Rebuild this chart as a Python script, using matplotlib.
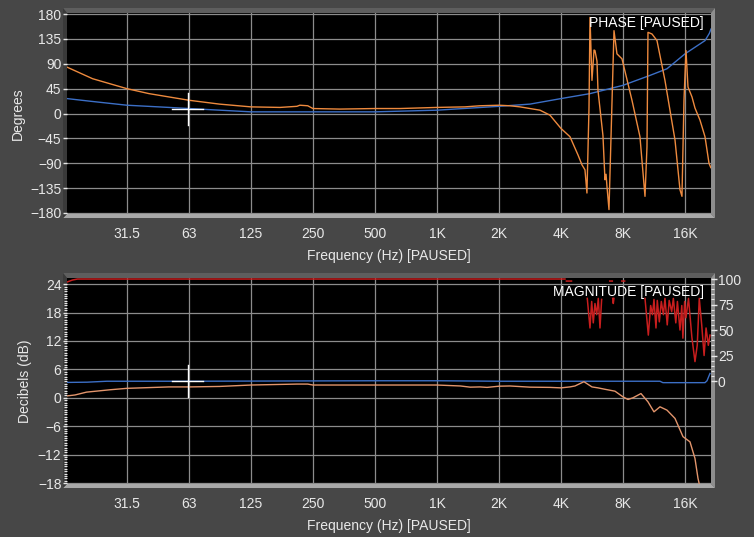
import matplotlib
matplotlib.use("Agg")
import matplotlib.pyplot as plt
from matplotlib.patches import Polygon
from matplotlib.ticker import FixedLocator, NullLocator

NaN = float("nan")

# ---------------- data ----------------
oct_ticks = [31.25, 62.5, 125, 250, 500, 1000, 2000, 4000, 8000, 16000]
oct_labels = ["31.5", "63", "125", "250", "500", "1K", "2K", "4K", "8K", "16K"]

phase_freq = [16, 21.3, 31.25, 40, 50, 62.5, 88, 125, 173, 209, 216, 236, 250, 338, 500, 661,
              1000, 1367, 1617, 2000, 2262, 2530, 3163, 3537, 4000, 4423, 4838, 5059, 5231, 5348,
              5472, 5533, 5657, 5790, 5850, 5983, 6050, 6396, 6542, 6620, 6690, 6842, 7236, 7480,
              7913, 8846, 9672, 10233, 10463, 10580, 11064, 11700, 12791, 14310, 15129, 15470,
              15821, 16180, 16546, 17302, 17889, 18922, 20010, 20925, 21350]
phase_deg = [84, 63, 45, 36, 30, 24, 17, 12, 11, 13, 15, 14, 9, 8, 9, 9,
             11, 12, 14, 15, 14, 12, 6, -3, -27, -42, -75, -93, -102, -144,
             10, 174, 60, 115, 114, 95, 42, -40, -120, -110, -132, -174, 150, 108,
             99, 24, -42, -150, -60, 147, 144, 132, 60, -48, -138, -150,
             24, 114, 48, 30, 10, -12, -42, -90, -98]

gd_freq = [16, 21, 31.25, 50, 62.5, 125, 250, 500, 1000, 2000, 2830, 4000, 5533, 8000,
           10818, 13082, 16000, 17889, 20010, 21000, 21400]
gd_deg = [27, 22, 15, 11, 9, 3, 3, 3, 6, 13, 17, 27, 36, 51, 69, 81, 108, 120, 132, 145, 153]

mag_freq = [16, 17.5, 19.9, 25.9, 31.25, 50, 62.5, 88, 125, 209, 236, 250, 500, 1000, 1300,
            1450, 1617, 1750, 2000, 2262, 2828, 3537, 4000, 4423, 4679, 5173, 5657, 6050, 6542,
            7317, 8000, 8462, 8945, 9781, 10580, 11312, 12100, 13082, 14310, 15644, 16921,
            17889, 18502, 18950]
mag_db = [0.4, 0.6, 1.2, 1.7, 2.0, 2.3, 2.3, 2.4, 2.7, 2.9, 2.9, 2.7, 2.7, 2.7, 2.5,
          2.25, 2.3, 2.2, 2.45, 2.5, 2.25, 2.2, 2.1, 2.3, 2.5, 3.4, 2.3, 2.1, 1.8,
          1.4, 0.2, -0.35, 0.0, 0.9, -0.85, -2.96, -1.9, -2.6, -4.35, -8.2, -9.3,
          -12.8, -17.0, -19.0]

ref_freq = [16, 20, 25, 62.5, 500, 1000, 2000, 12100, 12500, 20010, 20466, 21160]
ref_db = [3.25, 3.3, 3.5, 3.5, 3.6, 3.6, 3.5, 3.5, 3.2, 3.2, 3.6, 5.15]

# coherence (%), NaN marks where the trace is not drawn
coh_freq = [16, 17, 18, 4183, NaN,
            4250, 4500, NaN,
            5368, 5533, 5638, 5740, 5850, 5963, 6072, 6187, 6303, NaN,
            6900, 7100, NaN,
            7130, 7180, 7230, NaN,
            7900, 8150, NaN,
            10233, 10620, 10900, 11130, 11312, 11570, 11740, 12010, 12280, 12570, 12791,
            13120, 13410, 13790, 14050, 14440, 14700, 15130, 15440, 15630, 15940, 16180,
            16640, 17280, 17890, 18350, 18770, 19290, 19810, 20250, 20770, 21160]
coh_pct = [97, 99, 100, 100, NaN,
           98, 98, NaN,
           81, 52, 78, 57, 76, 65, 81, 52, 80, NaN,
           98, 98, NaN,
           81, 76, 81, NaN,
           98, 98, NaN,
           81, 45, 74, 65, 80, 52, 79, 58, 78, 65, 81,
           55, 79, 68, 81, 57, 78, 50, 74, 42, 78,
           62, 81, 43, 19, 35, 81, 55, 25, 52, 35, 45]

cursor_freq = 61.8
cursor_phase = 7.7
cursor_db = 3.6

# ---------------- style ----------------
W, H = 754, 537
BG = "#474747"
TXT = "#e8e8e8"
GRID = "#8c8c8c"
FONT = "Liberation Sans"
plt.rcParams["font.family"] = [FONT, "DejaVu Sans"]
plt.rcParams["font.size"] = 10

fig = plt.figure(figsize=(W / 100, H / 100), dpi=100, facecolor=BG)


def fx(x):
    return x / W


def fy(y):
    return 1 - y / H


def bevel(x0, y0, x1, y1, t=4):
    pieces = [
        ([(x0, y0), (x1, y0), (x1 - t, y0 + 5), (x0 + t, y0 + 5)], "#5e5e5e"),
        ([(x1, y0), (x1, y1), (x1 - t, y1 - t), (x1 - t, y0 + 5)], "#8e8e8e"),
        ([(x0, y1), (x1, y1), (x1 - t, y1 - t), (x0 + t, y1 - t)], "#a8a8a8"),
        ([(x0, y0), (x0 + t, y0 + 5), (x0 + t, y1 - t), (x0, y1)], "#3a3a3a"),
    ]
    for pts, col in pieces:
        fig.add_artist(Polygon([(fx(a), fy(b)) for a, b in pts], closed=True,
                               transform=fig.transFigure, facecolor=col,
                               edgecolor="none", zorder=-1))


bevel(63, 8, 715, 218)
bevel(63, 273, 715, 488)

ax1 = fig.add_axes([fx(67), fy(214), (711 - 67) / W, (214 - 13) / H])
ax2 = fig.add_axes([fx(67), fy(484), (711 - 67) / W, (484 - 278) / H])

for ax in (ax1, ax2):
    ax.set_facecolor("black")
    ax.set_xscale("log", base=2)
    ax.set_xlim(16, 21400)
    ax.xaxis.set_major_locator(FixedLocator(oct_ticks))
    ax.xaxis.set_minor_locator(NullLocator())
    ax.set_xticklabels(oct_labels)
    ax.tick_params(axis="x", length=0, pad=9, colors=TXT, labelsize=10)
    ax.tick_params(axis="y", which="major", length=3, width=1, colors=TXT,
                   labelsize=10, pad=1)
    for s in ax.spines.values():
        s.set_visible(False)
    ax.grid(True, which="major", color=GRID, linewidth=0.9)
    ax.set_axisbelow(True)
    ax.set_xlabel("Frequency (Hz) [PAUSED]", color=TXT, fontsize=10, labelpad=6)

# ---- phase panel ----
ax1.set_ylim(-182, 182)
ax1.set_yticks(range(-180, 181, 45))
ax1.yaxis.set_minor_locator(NullLocator())
ax1.set_ylabel("Degrees", color=TXT, fontsize=10, labelpad=4)
ax1.plot(gd_freq, gd_deg, color="#3c6fc6", lw=1.0)
ax1.plot(phase_freq, phase_deg, color="#ee8a3e", lw=1.0)
ax1.plot([cursor_freq, cursor_freq], [cursor_phase - 29, cursor_phase + 29],
         color="white", lw=1.0)
ax1.plot([cursor_freq * 0.835, cursor_freq * 1.18], [cursor_phase, cursor_phase],
         color="white", lw=1.0)
ax1.text(0.989, 0.985, "PHASE [PAUSED]", transform=ax1.transAxes, ha="right",
         va="top", color="white", fontsize=10)

# ---- magnitude panel ----
ax2.set_ylim(-18.2, 25.3)
ax2.set_yticks(range(-18, 25, 6))
ax2.yaxis.set_minor_locator(FixedLocator([v * 0.5 for v in range(-36, 49)]))
ax2.tick_params(axis="y", which="minor", length=2, width=0.8, colors=TXT)
ax2.set_ylabel("Decibels (dB)", color=TXT, fontsize=10, labelpad=4)

ax3 = ax2.twinx()
ax3.set_ylim(-101, 101)
ax3.set_yticks([0, 25, 50, 75, 100])
ax3.yaxis.set_minor_locator(FixedLocator(list(range(0, 101, 5))))
ax3.tick_params(axis="y", which="major", length=4, width=1, colors=TXT,
                labelsize=10, pad=1)
ax3.tick_params(axis="y", which="minor", length=2, width=0.8, colors=TXT)
for s in ax3.spines.values():
    s.set_visible(False)

ax3.plot(coh_freq, coh_pct, color="#c81e1e", lw=1.1, zorder=3)
ax2.plot(ref_freq, ref_db, color="#3c6fc6", lw=1.0, zorder=3)
ax2.plot(mag_freq, mag_db, color="#e3956c", lw=1.0, zorder=3)
ax2.plot([cursor_freq, cursor_freq], [cursor_db - 3.4, cursor_db + 3.4],
         color="white", lw=1.0, zorder=4)
ax2.plot([cursor_freq * 0.835, cursor_freq * 1.18], [cursor_db, cursor_db],
         color="white", lw=1.0, zorder=4)
ax3.text(0.989, 0.965, "MAGNITUDE [PAUSED]", transform=ax3.transAxes, ha="right",
         va="top", color="white", fontsize=10, zorder=5)

fig.savefig("out.png", dpi=100, facecolor=BG)
